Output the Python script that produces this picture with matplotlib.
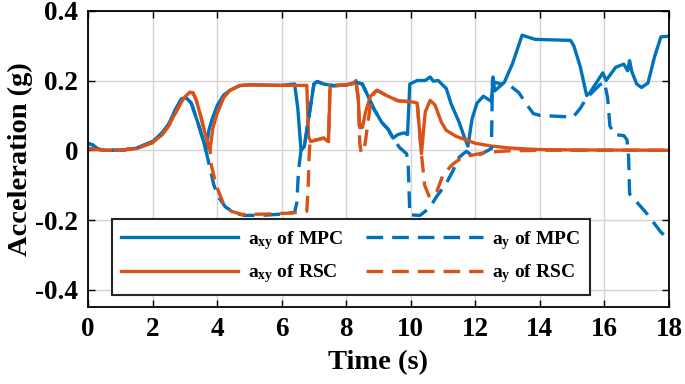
import numpy as np
import matplotlib
matplotlib.use('Agg')
import matplotlib.pyplot as plt

plt.rcParams['font.family'] = ['Liberation Serif', 'DejaVu Serif']
plt.rcParams['font.weight'] = 'bold'
plt.rcParams['mathtext.fontset'] = 'custom'
plt.rcParams['mathtext.rm'] = 'Liberation Serif:bold'
plt.rcParams['mathtext.it'] = 'Liberation Serif:bold'
plt.rcParams['mathtext.bf'] = 'Liberation Serif:bold'

# a_xy of MPC
t_axy_mpc = [0, 0.15, 0.3, 0.5, 1.0, 1.5, 2.0, 2.3, 2.5, 2.7, 2.9, 3.05, 3.2, 3.4, 3.55, 3.65,
             3.75, 3.85, 4.0, 4.2, 4.4, 4.7, 5.0, 5.5, 6.0, 6.4, 6.5, 6.6, 6.7, 6.85, 7.0, 7.1,
             7.3, 7.6, 8.0, 8.3, 8.5, 8.65, 8.85, 9.1, 9.3, 9.45, 9.6, 9.8, 9.9, 9.97, 10.2,
             10.45, 10.6, 10.7, 10.85, 11.1, 11.25, 11.5, 11.65, 11.77, 11.9, 12.05, 12.25,
             12.5, 12.55, 12.6, 12.9, 13.15, 13.45, 13.85, 14.95, 15.05, 15.25, 15.45, 15.55,
             15.95, 16.05, 16.35, 16.6, 16.72, 16.78, 16.85, 17.0, 17.15, 17.35, 17.55, 17.75, 18.0]
axy_mpc = [0.02, 0.015, 0.004, 0.0, 0.0, 0.006, 0.025, 0.05, 0.075, 0.115, 0.148, 0.15, 0.135,
           0.08, 0.035, 0.0, 0.06, 0.09, 0.128, 0.158, 0.172, 0.185, 0.188, 0.187, 0.186, 0.19,
           0.12, 0.0, 0.01, 0.1, 0.19, 0.197, 0.19, 0.185, 0.187, 0.195, 0.19, 0.16, 0.12, 0.08,
           0.06, 0.035, 0.045, 0.05, 0.045, 0.19, 0.2, 0.2, 0.21, 0.198, 0.2, 0.177, 0.133, 0.08,
           0.04, 0.012, 0.09, 0.135, 0.155, 0.14, 0.21, 0.17, 0.195, 0.248, 0.33, 0.318, 0.315,
           0.3, 0.24, 0.157, 0.165, 0.222, 0.2, 0.238, 0.247, 0.228, 0.257, 0.225, 0.19, 0.18,
           0.193, 0.267, 0.325, 0.327]

# a_xy of RSC
t_axy_rsc = [0, 0.3, 0.6, 1.0, 1.5, 2.0, 2.3, 2.5, 2.7, 2.9, 3.0, 3.15, 3.25, 3.35, 3.5, 3.65,
             3.78, 3.87, 4.0, 4.2, 4.4, 4.7, 5.0, 6.0, 6.5, 6.78, 6.83, 6.9, 7.1, 7.3, 7.45, 7.5,
             7.8, 8.2, 8.3, 8.37, 8.42, 8.5, 8.6, 8.75, 8.95, 9.25, 9.6, 10.1, 10.2, 10.33, 10.45,
             10.6, 10.75, 10.95, 11.1, 11.4, 11.7, 12.0, 12.5, 13.0, 13.5, 14.0, 15.0, 18.0]
axy_rsc = [0.005, 0.002, 0.0, 0.0, 0.005, 0.022, 0.045, 0.07, 0.105, 0.14, 0.153, 0.166, 0.165,
           0.145, 0.095, 0.04, 0.0, 0.065, 0.105, 0.15, 0.172, 0.186, 0.187, 0.186, 0.186, 0.186,
           0.04, 0.025, 0.03, 0.035, 0.025, 0.186, 0.186, 0.19, 0.2, 0.15, 0.065, 0.065, 0.11,
           0.155, 0.172, 0.157, 0.142, 0.138, 0.135, -0.01, 0.11, 0.143, 0.13, 0.08, 0.057, 0.04,
           0.03, 0.02, 0.012, 0.007, 0.004, 0.002, 0.001, 0.0]

# a_y of MPC
t_ay_mpc = [0, 0.15, 0.3, 0.5, 1.0, 1.5, 2.0, 2.3, 2.5, 2.7, 2.9, 3.05, 3.2, 3.4, 3.55, 3.65,
            3.75, 3.9, 4.05, 4.25, 4.55, 4.85, 5.5, 6.0, 6.4, 6.47, 6.52, 6.6, 6.7, 6.85, 7.0,
            7.1, 7.3, 7.6, 8.0, 8.3, 8.5, 8.65, 8.85, 9.1, 9.3, 9.45, 9.65, 9.87, 9.92, 9.97,
            10.28, 10.45, 10.6, 10.8, 11.1, 11.3, 11.5, 11.72, 11.95, 12.2, 12.5, 12.53, 12.6,
            12.8, 13.07, 13.35, 13.6, 13.8, 14.0, 15.03, 15.25, 15.45, 15.85, 16.0, 16.1, 16.17,
            16.3, 16.6, 16.7, 16.75, 16.78, 16.95, 17.3, 17.75, 18.0]
ay_mpc = [0.02, 0.015, 0.004, 0.0, 0.0, 0.006, 0.025, 0.05, 0.075, 0.115, 0.148, 0.15, 0.135,
          0.08, 0.035, 0.0, -0.04, -0.1, -0.135, -0.162, -0.18, -0.187, -0.186, -0.183, -0.178,
          -0.15, -0.06, 0.0, 0.01, 0.1, 0.19, 0.197, 0.19, 0.185, 0.187, 0.195, 0.19, 0.16, 0.12,
          0.08, 0.06, 0.035, 0.008, -0.01, -0.04, -0.185, -0.187, -0.175, -0.162, -0.133, -0.095,
          -0.06, -0.02, -0.003, -0.018, -0.01, 0.005, 0.2, 0.195, 0.19, 0.186, 0.165, 0.13,
          0.105, 0.1, 0.095, 0.12, 0.15, 0.187, 0.196, 0.15, 0.07, 0.045, 0.042, 0.03, -0.02,
          -0.125, -0.143, -0.18, -0.235, -0.255]

# a_y of RSC
t_ay_rsc = [0, 0.3, 0.6, 1.0, 1.5, 2.0, 2.3, 2.5, 2.7, 2.9, 3.0, 3.15, 3.25, 3.35, 3.5, 3.65,
            3.78, 3.82, 3.97, 4.18, 4.44, 4.77, 5.5, 6.3, 6.78, 6.82, 6.85, 6.88, 7.1, 7.3, 7.45,
            7.5, 7.8, 8.2, 8.3, 8.37, 8.42, 8.46, 8.55, 8.63, 8.75, 8.85, 8.95, 9.25, 9.6, 10.1,
            10.2, 10.33, 10.43, 10.58, 10.7, 10.8, 11.0, 11.3, 11.6, 11.9, 12.4, 13.0, 14.0, 18.0]
ay_rsc = [0.005, 0.002, 0.0, 0.0, 0.005, 0.022, 0.045, 0.07, 0.105, 0.14, 0.153, 0.166, 0.165,
          0.145, 0.095, 0.04, 0.0, -0.043, -0.1, -0.15, -0.175, -0.184, -0.183, -0.18, -0.175,
          -0.105, -0.02, 0.03, 0.03, 0.035, 0.025, 0.186, 0.186, 0.19, 0.2, 0.15, 0.02, -0.005,
          -0.005, 0.05, 0.13, 0.162, 0.172, 0.157, 0.142, 0.138, 0.135, -0.01, -0.1, -0.135, -0.13,
          -0.12, -0.07, -0.04, -0.02, -0.014, -0.005, -0.002, 0.0, 0.0]

labels = [r'$\mathrm{a}_{\mathrm{xy}}$ of MPC', r'$\mathrm{a}_{\mathrm{xy}}$ of RSC',
          r'$\mathrm{a}_{\mathrm{y}}$ of MPC', r'$\mathrm{a}_{\mathrm{y}}$ of RSC']

blue = '#0072BD'
orange = '#D95319'
dash = (0, (5, 2.7))

fig, ax = plt.subplots(figsize=(6.85, 3.84), dpi=100)
fig.subplots_adjust(left=0.1285, right=0.9766, top=0.972, bottom=0.2)

ax.plot(t_axy_mpc, axy_mpc, color=blue, lw=2.4, label=labels[0])
ax.plot(t_axy_rsc, axy_rsc, color=orange, lw=2.4, label=labels[1])
ax.plot(t_ay_mpc, ay_mpc, color=blue, lw=2.4, ls=dash, label=labels[2])
ax.plot(t_ay_rsc, ay_rsc, color=orange, lw=2.4, ls=dash, label=labels[3])

ax.set_xlim(0, 18)
ax.set_ylim(-0.45, 0.4)
ax.set_xticks(np.arange(0, 19, 2))
ax.set_yticks([-0.4, -0.2, 0, 0.2, 0.4])
ax.set_yticklabels(['-0.4', '-0.2', '0', '0.2', '0.4'])
ax.grid(True, color='#d4d4d4', lw=1.0)
ax.set_axisbelow(True)
ax.tick_params(direction='in', top=True, right=True, length=5, width=1.0, labelsize=19.5, pad=7)
for s in ax.spines.values():
    s.set_linewidth(1.3)
ax.set_xlabel('Time (s)', fontsize=20.5, fontweight='bold', labelpad=6)
ax.set_ylabel('Acceleration (g)', fontsize=20.5, fontweight='bold', labelpad=2)

leg = ax.legend(ncol=2, loc='lower left', bbox_to_anchor=(0.024, 0.008), fontsize=14,
                handlelength=6.0, handletextpad=0.5, columnspacing=1.2, labelspacing=0.55,
                fancybox=False, framealpha=1, borderpad=0.5)
leg.get_frame().set_edgecolor('0.15')
leg.get_frame().set_linewidth(1.5)

fig.savefig('out.png', dpi=100)
